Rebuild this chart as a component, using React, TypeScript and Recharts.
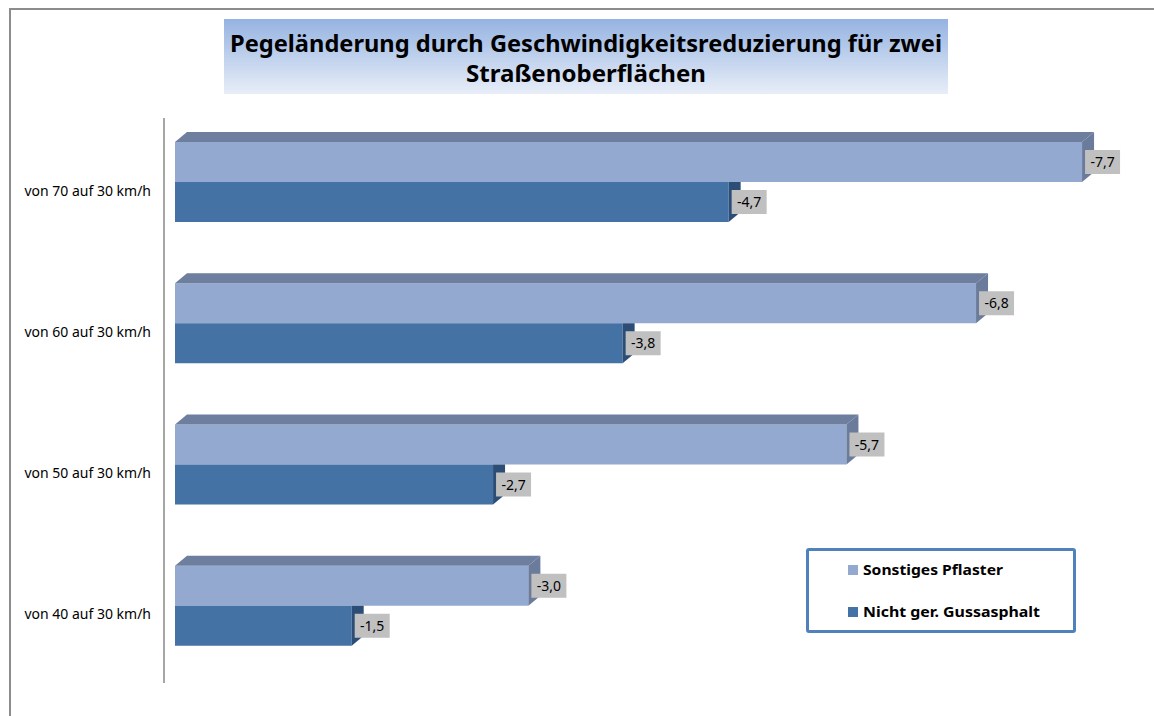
import React from "react"
import { BarChart, Bar, XAxis, YAxis, Legend, LabelList } from "recharts"

const categories = ["von 70 auf 30 km/h", "von 60 auf 30 km/h", "von 50 auf 30 km/h", "von 40 auf 30 km/h"]
const pflasterValues = [-7.7, -6.8, -5.7, -3.0]
const gussValues = [-4.7, -3.8, -2.7, -1.5]
const seriesNames = ["Sonstiges Pflaster", "Nicht ger. Gussasphalt"]
const xDomain = [-8, 0]
const titleLines = ["Pegeländerung durch Geschwindigkeitsreduzierung für zwei", "Straßenoberflächen"]

const data = categories.map((cat, i) => ({ cat, pflaster: pflasterValues[i], guss: gussValues[i] }))

const FONT = "'Noto Sans', 'Open Sans', sans-serif"
const DX = 12
const DY = 10
const SHIFT = -7

const fmt = (v: number) => v.toFixed(1).replace(".", ",")

function Bar3D(props: any) {
  const { fill, side, top } = props
  let x = Number(props.x)
  let w = Number(props.width)
  if (w < 0) { x = x + w; w = -w }
  const y = Number(props.y) + SHIFT
  const h = Number(props.height)
  const r = x + w
  return (
    <g>
      <rect x={x} y={y} width={w} height={h} fill={fill} />
      {top ? (
        <>
          <polygon points={`${x},${y} ${x + DX},${y - DY} ${r + DX},${y - DY} ${r},${y}`} fill="#6E7E9E" />
          <polygon points={`${r},${y} ${r + DX},${y - DY} ${r + DX},${y + h - DY} ${r},${y + h}`} fill={side} />
        </>
      ) : (
        <polygon points={`${r},${y} ${r + DX},${y} ${r + DX},${y + h - DY} ${r},${y + h}`} fill={side} />
      )}
    </g>
  )
}

function ValueLabel(props: any) {
  const vb = props.viewBox || props
  let x = Number(vb.x ?? props.x)
  let w = Number(vb.width ?? props.width)
  if (w < 0) { x = x + w; w = -w }
  const y = Number(vb.y ?? props.y)
  const h = Number(vb.height ?? props.height)
  const bx = x + w + 3
  const cy = y + h / 2 + SHIFT
  return (
    <g>
      <rect x={bx} y={cy - 12} width={35} height={24} fill="#C0C0C0" />
      <text x={bx + 17.5} y={cy + 5} textAnchor="middle" fontSize={14} fontFamily={FONT} fill="#000">
        {fmt(Number(props.value))}
      </text>
    </g>
  )
}

function CatTick(props: any) {
  const { x, y, payload } = props
  return (
    <text x={x} y={y} dy={7} textAnchor="end" fontSize={14} fontFamily={FONT} fill="#000">
      {payload.value}
    </text>
  )
}

function LegendBox(props: any) {
  const items = [...(props.payload || [])].sort(
    (a: any, b: any) => seriesNames.indexOf(a.value) - seriesNames.indexOf(b.value)
  )
  return (
    <div style={{ width: 270, height: 85, boxSizing: "border-box", border: "3px solid #4F81BD", borderRadius: 3, background: "#fff" }}>
      <svg width={264} height={79}>
        {items.map((it: any, i: number) => (
          <g key={i}>
            <rect x={39} y={14 + i * 42} width={10} height={10} fill={it.color} />
            <text x={54} y={24 + i * 42} fontSize={15} fontWeight="bold" fontFamily={FONT} fill="#000"
              textLength={i === 0 ? 140 : 177} lengthAdjust="spacingAndGlyphs">
              {it.value}
            </text>
          </g>
        ))}
      </svg>
    </div>
  )
}

export default function App() {
  return (
    <div style={{ position: "absolute", left: 0, top: 0, width: 1154, height: 716, overflow: "hidden", background: "#fff" }}>
      <div style={{ position: "absolute", left: 9, top: 8, width: 1200, height: 800, borderTop: "2px solid #8C8C8C", borderLeft: "2px solid #8C8C8C" }} />
      <div style={{ position: "absolute", left: 224, top: 19, width: 724, height: 75, background: "linear-gradient(#95B3E1, #E8EEF8)" }}>
        <svg width={724} height={75} style={{ overflow: "visible" }}>
          <text x={362} y={33} textAnchor="middle" fontSize={23} fontWeight="bold" fontFamily={FONT} fill="#000"
            textLength={712} lengthAdjust="spacingAndGlyphs">{titleLines[0]}</text>
          <text x={362} y={63} textAnchor="middle" fontSize={23} fontWeight="bold" fontFamily={FONT} fill="#000"
            textLength={240} lengthAdjust="spacingAndGlyphs">{titleLines[1]}</text>
        </svg>
      </div>
      <div style={{ position: "absolute", left: 0, top: 0 }}>
        <BarChart width={1154} height={716} data={data} layout="vertical" barSize={40} barGap={0}
          margin={{ top: 118, right: 36.6, bottom: 33, left: 0 }}>
          <XAxis type="number" domain={xDomain} reversed hide padding={{ left: 11, right: 0 }} allowDataOverflow />
          <YAxis type="category" dataKey="cat" width={164} tickLine={false} tickSize={0} tickMargin={13}
            axisLine={{ stroke: "#A6A6A6", strokeWidth: 2 }} tick={<CatTick />} />
          <Legend layout="vertical" align="center" verticalAlign="middle" content={<LegendBox />}
            wrapperStyle={{ left: 806, top: 548, width: 270, height: 85 }} />
          <Bar dataKey="pflaster" name={seriesNames[0]} fill="#94A9D0" isAnimationActive={false}
            shape={(p: any) => <Bar3D {...p} top side="#6B7B9B" />}>
            <LabelList dataKey="pflaster" content={<ValueLabel />} />
          </Bar>
          <Bar dataKey="guss" name={seriesNames[1]} fill="#4472A5" isAnimationActive={false}
            shape={(p: any) => <Bar3D {...p} side="#2C4D76" />}>
            <LabelList dataKey="guss" content={<ValueLabel />} />
          </Bar>
        </BarChart>
      </div>
    </div>
  )
}
